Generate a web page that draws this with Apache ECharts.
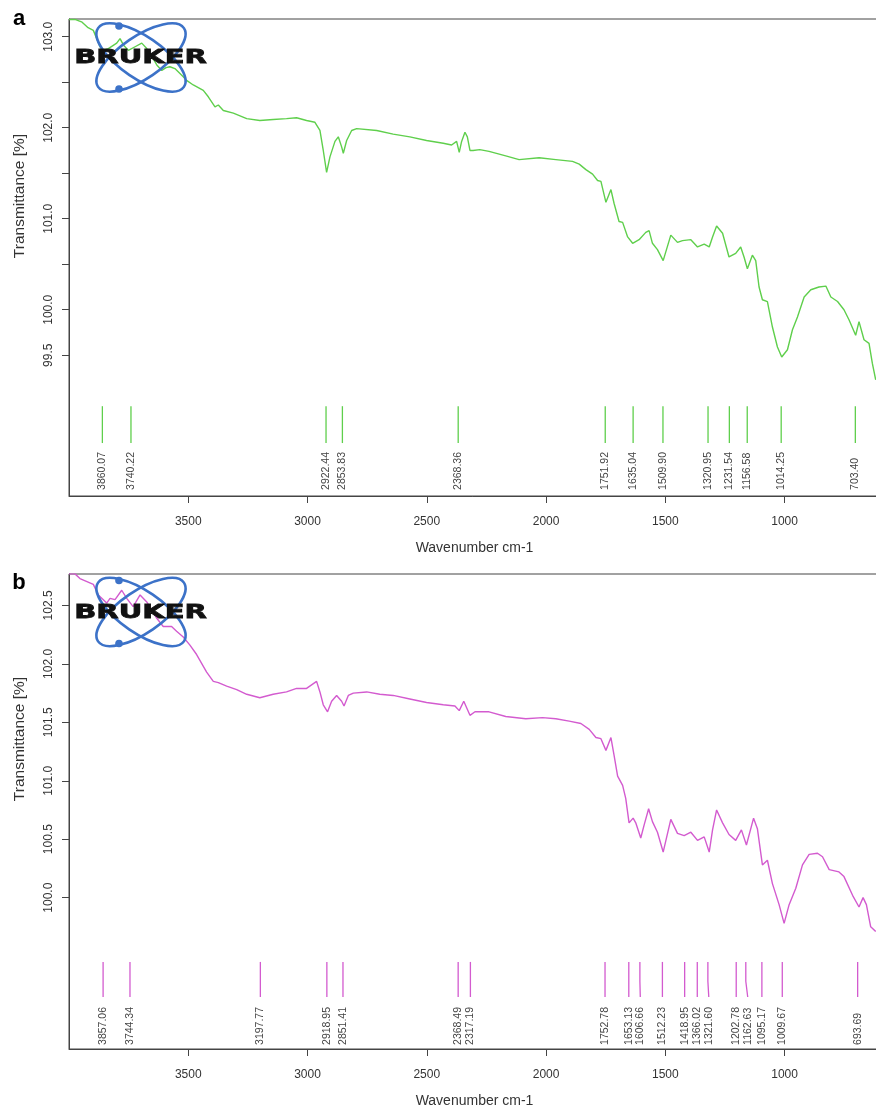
<!DOCTYPE html>
<html>
<head>
<meta charset="utf-8">
<title>FTIR spectra</title>
<script src="https://cdn.jsdelivr.net/npm/echarts@6/dist/echarts.min.js"></script>
<style>
  html, body { margin: 0; padding: 0; background: #fff; }
  #chart { width: 876px; height: 1110px; }
</style>
</head>
<body>
<div id="chart"></div>
<script>
// Spectrum a: wavenumber (cm-1) and transmittance (%)
const waveA = [4000, 3975, 3945, 3920, 3898, 3870, 3857, 3835, 3800, 3786,
  3772, 3751, 3723, 3695, 3674, 3652, 3632, 3611, 3593, 3577,
  3556, 3521, 3507, 3479, 3437, 3416, 3388, 3374, 3353, 3311,
  3255, 3200, 3144, 3088, 3046, 3004, 2969, 2948, 2934, 2920,
  2906, 2885, 2871, 2857, 2850, 2836, 2815, 2794, 2710, 2641,
  2571, 2501, 2431, 2396, 2375, 2364, 2354, 2340, 2330, 2319,
  2306, 2278, 2239, 2169, 2113, 2029, 1959, 1889, 1861, 1833,
  1805, 1784, 1770, 1749, 1728, 1715, 1694, 1679, 1658, 1637,
  1610, 1582, 1568, 1554, 1533, 1509, 1477, 1449, 1428, 1393,
  1365, 1337, 1316, 1302, 1285, 1260, 1233, 1205, 1184, 1170,
  1156, 1135, 1121, 1107, 1093, 1072, 1051, 1030, 1012, 988,
  967, 946, 918, 890, 856, 827, 806, 778, 751, 730,
  702, 688, 667, 646, 632, 618];
const transA = [103.19, 103.19, 103.16, 103.10, 103.07, 102.89, 102.85, 102.87, 102.93, 102.98,
  102.91, 102.85, 102.89, 102.93, 102.87, 102.78, 102.69, 102.63, 102.66, 102.67,
  102.65, 102.56, 102.52, 102.47, 102.41, 102.34, 102.23, 102.25, 102.19, 102.16,
  102.10, 102.08, 102.09, 102.10, 102.11, 102.08, 102.06, 101.97, 101.75, 101.51,
  101.68, 101.85, 101.90, 101.79, 101.72, 101.86, 101.97, 101.99, 101.97, 101.93,
  101.90, 101.86, 101.83, 101.81, 101.85, 101.73, 101.85, 101.95, 101.90, 101.75,
  101.75, 101.76, 101.74, 101.69, 101.65, 101.67, 101.65, 101.63, 101.60, 101.54,
  101.49, 101.42, 101.41, 101.18, 101.32, 101.17, 100.97, 100.96, 100.80, 100.73,
  100.77, 100.85, 100.87, 100.73, 100.66, 100.54, 100.82, 100.74, 100.76, 100.77,
  100.69, 100.72, 100.69, 100.80, 100.92, 100.84, 100.58, 100.62, 100.69, 100.58,
  100.45, 100.60, 100.54, 100.25, 100.11, 100.09, 99.81, 99.59, 99.48, 99.56,
  99.78, 99.92, 100.14, 100.22, 100.25, 100.26, 100.14, 100.09, 100.00, 99.89,
  99.72, 99.87, 99.67, 99.63, 99.41, 99.23];
const peaksA = [3860.07, 3740.22, 2922.44, 2853.83, 2368.36, 1751.92, 1635.04,
  1509.90, 1320.95, 1231.54, 1156.58, 1014.25, 703.40];

// Spectrum b
const waveB = [4000, 3975, 3954, 3898, 3877, 3842, 3828, 3807, 3779, 3758,
  3731, 3702, 3674, 3632, 3605, 3570, 3549, 3521, 3493, 3465,
  3423, 3395, 3374, 3339, 3297, 3255, 3200, 3144, 3088, 3046,
  3004, 2962, 2948, 2934, 2916, 2899, 2878, 2857, 2847, 2829,
  2808, 2752, 2697, 2641, 2571, 2501, 2431, 2382, 2364, 2345,
  2319, 2298, 2239, 2169, 2085, 2015, 1959, 1903, 1854, 1819,
  1791, 1770, 1749, 1728, 1715, 1700, 1679, 1666, 1652, 1635,
  1624, 1603, 1589, 1570, 1554, 1533, 1509, 1477, 1449, 1421,
  1393, 1365, 1337, 1316, 1302, 1285, 1260, 1233, 1205, 1181,
  1160, 1130, 1114, 1093, 1072, 1051, 1023, 1002, 981, 953,
  925, 897, 862, 841, 813, 772, 751, 715, 688, 671,
  657, 639, 618];
const transB = [102.77, 102.77, 102.73, 102.68, 102.59, 102.52, 102.56, 102.55, 102.63, 102.56,
  102.49, 102.59, 102.53, 102.39, 102.32, 102.32, 102.28, 102.23, 102.16, 102.08,
  101.93, 101.85, 101.84, 101.81, 101.78, 101.74, 101.71, 101.74, 101.76, 101.79,
  101.79, 101.85, 101.76, 101.65, 101.59, 101.68, 101.73, 101.68, 101.64, 101.73,
  101.75, 101.76, 101.74, 101.73, 101.70, 101.67, 101.65, 101.64, 101.60, 101.68,
  101.56, 101.59, 101.59, 101.55, 101.53, 101.54, 101.53, 101.51, 101.49, 101.44,
  101.37, 101.36, 101.26, 101.37, 101.22, 101.04, 100.96, 100.85, 100.64, 100.68,
  100.64, 100.51, 100.62, 100.76, 100.65, 100.56, 100.39, 100.67, 100.55, 100.53,
  100.56, 100.49, 100.52, 100.39, 100.58, 100.75, 100.64, 100.54, 100.49, 100.58,
  100.45, 100.68, 100.59, 100.28, 100.32, 100.12, 99.94, 99.78, 99.94, 100.08,
  100.28, 100.37, 100.38, 100.35, 100.24, 100.22, 100.18, 100.02, 99.92, 100.00,
  99.94, 99.75, 99.71];
const peaksB = [3857.06, 3744.34, 3197.77, 2918.95, 2851.41, 2368.49, 2317.19,
  1752.78, 1653.13, 1606.66, 1512.23, 1418.95, 1366.02, 1321.60, 1202.78,
  1162.63, 1095.17, 1009.67, 693.69];

// Axis ticks and labels
const xTicks = [1000, 1500, 2000, 2500, 3000, 3500];
const yTicksA = [99.5, 100, 100.5, 101, 101.5, 102, 102.5, 103];
const yLabelsA = [99.5, 100, 101, 102, 103];
const yTicksB = [100, 100.5, 101, 101.5, 102, 102.5];
const yLabelsB = [100, 100.5, 101, 101.5, 102, 102.5];

const GREEN = '#5fcf4c';
const PINK = '#d35bcf';
const FONT = '"Liberation Sans", Arial, sans-serif';
const LABEL_GAP = 11.5;

function pairs(xs, ys) { return xs.map((x, i) => [x, ys[i]]); }

// Peak markers: short vertical stroke plus a rotated wavenumber label,
// labels nudged apart when neighbouring peaks crowd together.
function peakRenderer(peaks, vTop, vBottom, vBase, color) {
  return function (params, api) {
    const i = params.dataIndex;
    const xs = peaks.map(w => api.coord([w, vTop])[0]);
    const lx = [];
    xs.forEach((x, k) => lx.push(k === 0 ? x : Math.max(x, lx[k - 1] + LABEL_GAP)));
    const x = xs[i], l = lx[i];
    const yTop = api.coord([peaks[i], vTop])[1];
    const yBot = api.coord([peaks[i], vBottom])[1];
    const yBase = api.coord([peaks[i], vBase])[1];
    const yBend = yTop + (yBot - yTop) * 0.55;
    return {
      type: 'group',
      children: [
        { type: 'polyline', shape: { points: [[x, yTop], [x, yBend], [l, yBot]] },
          style: { stroke: color, lineWidth: 1.3, fill: null } },
        { type: 'text', x: l, y: yBase, rotation: Math.PI / 2,
          style: { text: peaks[i].toFixed(2), x: 0, y: 0, align: 'left', verticalAlign: 'middle',
                   fill: '#444', fontSize: 10.5, fontFamily: FONT } }
      ]
    };
  };
}

function xAxisCfg(gridIndex) {
  return {
    type: 'value', gridIndex, inverse: true, min: 600, max: 4000,
    name: 'Wavenumber cm-1', nameLocation: 'middle', nameGap: 45,
    nameTextStyle: { color: '#333', fontSize: 14, fontFamily: FONT },
    axisLine: { show: true, lineStyle: { color: '#444', width: 1 } },
    axisTick: { show: true, inside: false, length: 7, customValues: xTicks, lineStyle: { color: '#444' } },
    axisLabel: { customValues: xTicks, margin: 20, color: '#333', fontSize: 12, fontFamily: FONT,
                 formatter: v => String(v) },
    splitLine: { show: false }
  };
}

function yAxisCfg(gridIndex, min, max, ticks, labels) {
  return {
    type: 'value', gridIndex, min, max,
    axisLine: { show: true, lineStyle: { color: '#444', width: 1 } },
    axisTick: { show: true, inside: false, length: 7, customValues: ticks, lineStyle: { color: '#444' } },
    axisLabel: { customValues: labels, rotate: 90, margin: 14, color: '#333', fontSize: 12, fontFamily: FONT,
                 formatter: v => Number(v).toFixed(1) },
    splitLine: { show: false }
  };
}

// Bruker atom mark with wordmark
function logo(cy) {
  const blue = '#3c72c8';
  return [
    { type: 'ellipse', x: 141, y: cy, rotation: 0.6, z: 100,
      shape: { cx: 0, cy: 0, rx: 52, ry: 21 }, style: { stroke: blue, lineWidth: 2.6, fill: null } },
    { type: 'ellipse', x: 141, y: cy, rotation: -0.6, z: 100,
      shape: { cx: 0, cy: 0, rx: 52, ry: 21 }, style: { stroke: blue, lineWidth: 2.6, fill: null } },
    { type: 'circle', z: 101, shape: { cx: 119, cy: cy - 31.5, r: 3.8 }, style: { fill: blue } },
    { type: 'circle', z: 101, shape: { cx: 119, cy: cy + 31.5, r: 3.8 }, style: { fill: blue } },
    { type: 'text', x: 140.5, y: cy + 0.5, scaleX: 1.45, z: 102,
      style: { text: 'BRUKER', x: 0, y: 0, align: 'center', verticalAlign: 'middle',
               fill: '#111', stroke: '#111', lineWidth: 0.8,
               fontSize: 20, fontWeight: 'bold', fontFamily: '"DejaVu Sans", sans-serif' } }
  ];
}

function yTitle(cy) {
  return { type: 'text', x: 20, y: cy, rotation: Math.PI / 2, z: 50,
    style: { text: 'Transmittance [%]', x: 0, y: 0, align: 'center', verticalAlign: 'middle',
             fill: '#333', fontSize: 15.5, fontFamily: FONT } };
}

function panelLetter(letter, cy) {
  return { type: 'text', x: 19, y: cy, z: 50,
    style: { text: letter, x: 0, y: 0, align: 'center', verticalAlign: 'middle',
             fill: '#000', fontSize: 22, fontWeight: 'bold', fontFamily: FONT } };
}

const chart = echarts.init(document.getElementById('chart'), null, { renderer: 'canvas' });
chart.setOption({
  backgroundColor: '#fff',
  animation: false,
  grid: [
    { left: 69, top: 19, width: 811, height: 477, show: true, borderColor: '#444', borderWidth: 1,
      containLabel: false, outerBoundsMode: 'none' },
    { left: 69, top: 574, width: 811, height: 475, show: true, borderColor: '#444', borderWidth: 1,
      containLabel: false, outerBoundsMode: 'none' }
  ],
  xAxis: [xAxisCfg(0), xAxisCfg(1)],
  yAxis: [
    yAxisCfg(0, 97.953, 103.195, yTicksA, yLabelsA),
    yAxisCfg(1, 98.705, 102.769, yTicksB, yLabelsB)
  ],
  series: [
    { type: 'line', xAxisIndex: 0, yAxisIndex: 0, data: pairs(waveA, transA),
      showSymbol: false, lineStyle: { color: GREEN, width: 1.4 }, z: 5 },
    { type: 'line', xAxisIndex: 1, yAxisIndex: 1, data: pairs(waveB, transB),
      showSymbol: false, lineStyle: { color: PINK, width: 1.4 }, z: 5 },
    { type: 'custom', xAxisIndex: 0, yAxisIndex: 0, data: peaksA.map(w => [w, 98.7]),
      renderItem: peakRenderer(peaksA, 98.94, 98.535, 98.02, GREEN), z: 6 },
    { type: 'custom', xAxisIndex: 1, yAxisIndex: 1, data: peaksB.map(w => [w, 99.3]),
      renderItem: peakRenderer(peaksB, 99.45, 99.15, 98.74, PINK), z: 6 }
  ],
  graphic: [
    panelLetter('a', 19),
    panelLetter('b', 583),
    yTitle(196),
    yTitle(739),
    ...logo(57.5),
    ...logo(612)
  ]
});
</script>
</body>
</html>
